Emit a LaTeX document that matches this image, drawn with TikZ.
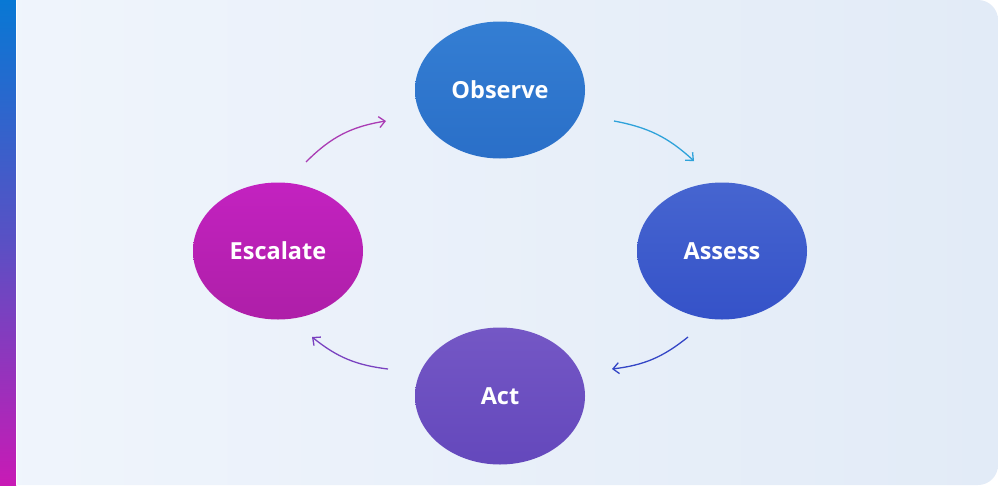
\documentclass[tikz,border=0pt]{standalone}
\usepackage{fontspec}
\setmainfont{Open Sans}
\usetikzlibrary{arrows.meta,shapes.geometric,calc}
\definecolor{bgA}{HTML}{F0F5FC}
\definecolor{bgB}{HTML}{E2EBF7}
\definecolor{barTop}{HTML}{0878D4}
\definecolor{barMid}{HTML}{5A50C4}
\definecolor{barBot}{HTML}{C81AB5}
\definecolor{obsT}{HTML}{347ED3}
\definecolor{obsB}{HTML}{2A6FC8}
\definecolor{assT}{HTML}{4665D0}
\definecolor{assB}{HTML}{3552C8}
\definecolor{actT}{HTML}{7457C5}
\definecolor{actB}{HTML}{6448BC}
\definecolor{escT}{HTML}{C322C0}
\definecolor{escB}{HTML}{AE1FA8}
\definecolor{arEO}{HTML}{AA3CB4}
\definecolor{arOA}{HTML}{2EA2DA}
\definecolor{arAA}{HTML}{3446C6}
\definecolor{arAE}{HTML}{7A42C0}
\tikzset{
  stage/.style={ellipse, minimum width=170pt, minimum height=137pt, inner sep=0pt,
    text=white, font=\bfseries\fontsize{23.5}{27}\selectfont},
  cyc/.style={line width=1.3pt, -{Straight Barb[length=6pt,width=11pt]}},
}
\begin{document}
\begin{tikzpicture}[x=1pt,y=-1pt]
\useasboundingbox (0,0) rectangle (998,485);
\clip (0,0) rectangle (998,485);
\fill[white] (0,0) rectangle (998,485);
% card background
\shade[left color=bgA, right color=bgB, rounded corners=20pt] (-30,0) rectangle (998,485);
% left bar
\shade[top color=barTop, bottom color=barBot, middle color=barMid] (0,0) rectangle (16,485);
\fill[white] (16,0) rectangle (17,485);
% stages
\node[stage, top color=obsT, bottom color=obsB] (obs) at (500,90) {Observe};
\node[stage, top color=assT, bottom color=assB] (ass) at (722,251) {Assess};
\node[stage, top color=actT, bottom color=actB] (act) at (500,396) {Act};
\node[stage, top color=escT, bottom color=escB] (esc) at (278,251) {Escalate};
% arrow end points
\coordinate (eoS) at ($(esc.center)+(28,-89)$);
\coordinate (eoE) at ($(obs.center)+(-114,31)$);
\coordinate (oaS) at ($(obs.center)+(114,31)$);
\coordinate (oaE) at ($(ass.center)+(-28,-90)$);
\coordinate (aaS) at ($(ass.center)+(-34,86)$);
\coordinate (aaE) at ($(act.center)+(112,-27)$);
\coordinate (aeS) at ($(act.center)+(-112,-27)$);
\coordinate (aeE) at ($(esc.center)+(34,86)$);
% cycle arrows
\draw[cyc, arEO] (eoS) to[bend left=18] (eoE);
\draw[cyc, arOA] (oaS) to[bend left=16] (oaE);
\draw[cyc, arAA] (aaS) to[bend left=16] (aaE);
\draw[cyc, arAE] (aeS) to[bend left=16] (aeE);
\end{tikzpicture}
\end{document}
